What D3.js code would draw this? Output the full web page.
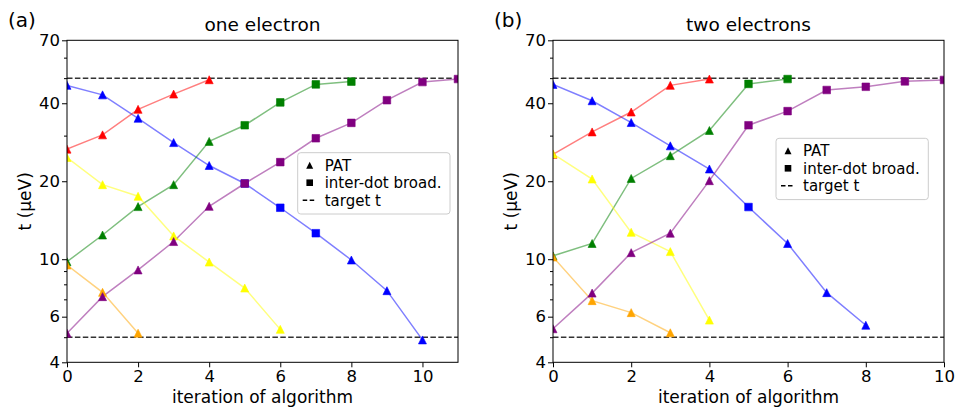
<!DOCTYPE html>
<html>
<head>
<meta charset="utf-8">
<script src="https://cdnjs.cloudflare.com/ajax/libs/d3/7.8.5/d3.min.js"></script>
<style>
  body { margin: 0; background: #fff; }
  svg { font-family: "DejaVu Sans", sans-serif; }
</style>
</head>
<body>
<svg id="chart" width="955" height="408"></svg>
<script>
// tick values
var yTicks = [4, 6, 10, 20, 40, 70];
var yMinorTicks = [5, 7, 8, 9, 30, 50, 60];
var xTicks = [0, 2, 4, 6, 8, 10];
var targets = [5, 50];

// panel (a): one electron.  marker code: t = PAT triangle, s = inter-dot square
var oneBlue = [46.9, 43.1, 35.0, 28.2, 23.0, 19.6, 15.8, 12.6, 9.93, 7.56, 4.88];
var oneBlueMk = "tttttsssttt";
var oneRed = [26.6, 30.2, 37.9, 43.4, 49.3];
var oneRedMk = "ttttt";
var oneGreen = [9.78, 12.4, 15.96, 19.4, 28.5, 32.9, 40.3, 47.3, 48.5];
var oneGreenMk = "tttttssss";
var onePurple = [5.18, 7.17, 9.09, 11.7, 16.0, 19.6, 23.7, 29.3, 33.6, 41.1, 48.3, 49.6];
var onePurpleMk = "tttttsssssss";
var oneYellow = [24.7, 19.4, 17.5, 12.3, 9.75, 7.74, 5.36];
var oneYellowMk = "ttttttt";
var oneOrange = [9.50, 7.45, 5.18];
var oneOrangeMk = "ttt";

// panel (b): two electrons
var twoBlue = [47.3, 40.9, 33.7, 27.4, 22.3, 15.9, 11.5, 7.43, 5.56];
var twoBlueMk = "tttttsttt";
var twoRed = [25.4, 31.0, 37.0, 46.9, 49.6];
var twoRedMk = "ttttt";
var twoGreen = [10.3, 11.5, 20.5, 25.1, 31.4, 47.5, 49.6];
var twoGreenMk = "tttttss";
var twoPurple = [5.39, 7.40, 10.6, 12.6, 20.1, 32.9, 37.3, 45.0, 46.3, 48.6, 49.2];
var twoPurpleMk = "tttttssssss";
var twoYellow = [25.5, 20.4, 12.7, 10.7, 5.82];
var twoYellowMk = "ttttt";
var twoOrange = [10.2, 6.92, 6.22, 5.20];
var twoOrangeMk = "tttt";

var legendLabels = ["PAT", "inter-dot broad.", "target t"];

var panels = [
  { tag: "(a)", tagX: 8, title: "one electron", left: 67, right: 458, xMax: 11,
    legX: 297.7, legY: 152.7,
    series: [
      { c: "blue", v: oneBlue, m: oneBlueMk },
      { c: "red", v: oneRed, m: oneRedMk },
      { c: "green", v: oneGreen, m: oneGreenMk },
      { c: "yellow", v: oneYellow, m: oneYellowMk },
      { c: "orange", v: oneOrange, m: oneOrangeMk },
      { c: "purple", v: onePurple, m: onePurpleMk }
    ] },
  { tag: "(b)", tagX: 494, title: "two electrons", left: 553, right: 944, xMax: 10,
    legX: 776, legY: 138.3,
    series: [
      { c: "blue", v: twoBlue, m: twoBlueMk },
      { c: "red", v: twoRed, m: twoRedMk },
      { c: "green", v: twoGreen, m: twoGreenMk },
      { c: "yellow", v: twoYellow, m: twoYellowMk },
      { c: "orange", v: twoOrange, m: twoOrangeMk },
      { c: "purple", v: twoPurple, m: twoPurpleMk }
    ] }
];

var axTop = 40.3, axBottom = 362.3;
var svg = d3.select("#chart");

var triangle = "M0,-4L4,4L-4,4Z";
var square = "M-3.8,-3.8H3.8V3.8H-3.8Z";

panels.forEach(function(p, pi) {

  var x = d3.scaleLinear().domain([0, p.xMax]).range([p.left, p.right]);
  var y = d3.scaleLog().domain([4, 70]).range([axBottom, axTop]);

  var g = svg.append("g");

  // clip to the axes area
  svg.append("clipPath").attr("id", "clip" + pi)
     .append("rect")
     .attr("x", p.left).attr("y", axTop)
     .attr("width", p.right - p.left).attr("height", axBottom - axTop);

  var plot = g.append("g").attr("clip-path", "url(#clip" + pi + ")");

  // target lines
  plot.selectAll(".target")
      .data(targets)
      .enter()
      .append("line")
      .attr("x1", p.left).attr("x2", p.right)
      .attr("y1", function(d) { return y(d); })
      .attr("y2", function(d) { return y(d); })
      .attr("stroke", "#333")
      .attr("stroke-width", 1.5)
      .attr("stroke-dasharray", "5.5,2.4");

  var line = d3.line()
      .x(function(d, i) { return x(i); })
      .y(function(d) { return y(d); });

  // lines first, then markers
  p.series.forEach(function(s) {
    plot.append("path")
        .attr("d", line(s.v))
        .attr("fill", "none")
        .attr("stroke", s.c)
        .attr("stroke-opacity", 0.5)
        .attr("stroke-width", 1.5);
  });
  p.series.forEach(function(s) {
    plot.selectAll(null)
        .data(s.v)
        .enter()
        .append("path")
        .attr("d", function(d, i) { return s.m[i] == "s" ? square : triangle; })
        .attr("transform", function(d, i) { return "translate(" + x(i) + "," + y(d) + ")"; })
        .attr("fill", s.c)
        .attr("stroke", s.c)
        .attr("stroke-width", 0.6);
  });

  // axes
  var xAxis = d3.axisBottom(x).tickValues(xTicks).tickSize(5).tickPadding(3)
      .tickFormat(d3.format("d"));
  var gx = g.append("g")
      .attr("transform", "translate(0," + axBottom + ")")
      .call(xAxis);

  var yAxis = d3.axisLeft(y).tickValues(yTicks).tickSize(5).tickPadding(2)
      .tickFormat(d3.format("d"));
  var gy = g.append("g")
      .attr("transform", "translate(" + p.left + ",0)")
      .call(yAxis);

  var yMinor = d3.axisLeft(y).tickValues(yMinorTicks).tickSize(3).tickFormat("");
  var gm = g.append("g")
      .attr("transform", "translate(" + p.left + ",0)")
      .call(yMinor);

  [gx, gy, gm].forEach(function(a) {
    a.select(".domain").remove();
    a.selectAll("line").attr("stroke", "#000").attr("stroke-width", 1);
    a.selectAll("text").attr("fill", "#000").style("font-size", "16.5px")
     .style("font-family", "'DejaVu Sans', sans-serif");
  });

  // frame
  g.append("rect")
   .attr("x", p.left).attr("y", axTop)
   .attr("width", p.right - p.left).attr("height", axBottom - axTop)
   .attr("fill", "none").attr("stroke", "#000").attr("stroke-width", 1);

  // titles
  g.append("text")
   .attr("x", (p.left + p.right) / 2).attr("y", 31)
   .attr("text-anchor", "middle")
   .style("font-size", "18.5px")
   .text(p.title);

  g.append("text")
   .attr("x", p.tagX).attr("y", 27.3)
   .style("font-size", "20px")
   .text(p.tag);

  g.append("text")
   .attr("x", (p.left + p.right) / 2).attr("y", 402.7)
   .attr("text-anchor", "middle")
   .style("font-size", "17px")
   .text("iteration of algorithm");

  g.append("text")
   .attr("transform", "translate(" + (p.left - 36) + "," + ((axTop + axBottom) / 2) + ") rotate(-90)")
   .attr("text-anchor", "middle")
   .style("font-size", "17px")
   .text("t (\u03bceV)");

  // legend
  var leg = g.append("g").attr("transform", "translate(" + p.legX + "," + p.legY + ")");
  leg.append("rect")
     .attr("width", 152.3).attr("height", 61.3)
     .attr("rx", 3).attr("ry", 3)
     .attr("fill", "#fff").attr("fill-opacity", 0.8)
     .attr("stroke", "#ccc").attr("stroke-width", 1);

  var rows = leg.selectAll(".row")
      .data(legendLabels)
      .enter()
      .append("g")
      .attr("transform", function(d, i) { return "translate(0," + (12.5 + i * 17.5) + ")"; });

  rows.append("text")
      .attr("x", 27).attr("y", 5.5)
      .style("font-size", "15px")
      .text(function(d) { return d; });

  rows.filter(function(d, i) { return i < 2; })
      .append("path")
      .attr("d", function(d, i) { return i == 0 ? "M0,-3.5L3.5,3.5L-3.5,3.5Z" : "M-3.3,-3.3H3.3V3.3H-3.3Z"; })
      .attr("transform", "translate(12,0)")
      .attr("fill", "#000");

  rows.filter(function(d, i) { return i == 2; })
      .append("line")
      .attr("x1", 5).attr("x2", 18)
      .attr("stroke", "#000")
      .attr("stroke-width", 1.5)
      .attr("stroke-dasharray", "4.5,2.5");
});
</script>
</body>
</html>
